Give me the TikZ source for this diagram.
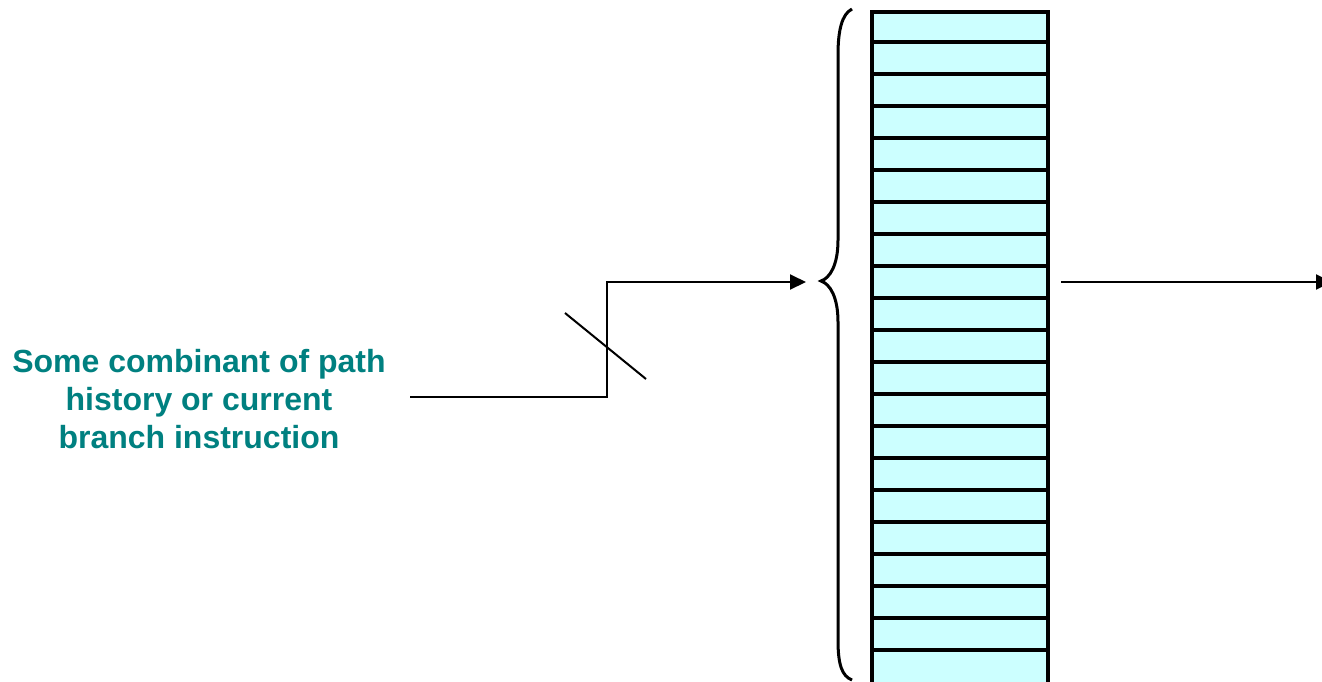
\documentclass[tikz,border=0pt]{standalone}
\usepackage{fontspec}
\newfontfamily\labelfont{Liberation Sans}
\usepackage{tikz}
\usetikzlibrary{arrows.meta}

\definecolor{labelteal}{RGB}{0,128,128}
\definecolor{entrycyan}{RGB}{204,255,255}

\begin{document}
\begin{tikzpicture}[x=1pt,y=-1pt,>={Triangle[length=16pt,width=15pt]},
  label text/.style={align=center, inner sep=0pt, text=labelteal,
    font=\labelfont\bfseries\fontsize{32}{38}\selectfont},
  table box/.style={draw, fill=entrycyan, line width=4pt, inner sep=0pt,
    minimum width=176pt, minimum height=674pt, anchor=north west},
  wire/.style={line width=2pt}]

  \useasboundingbox (0,0) rectangle (1322,681);

  \node[label text] (source) at (199,399) {Some combinant of path\\ history or current\\ branch instruction};
  \node[table box] (table) at (870,10) {};
  % entries of the table
  \foreach \i in {1,...,20}
    \draw[line width=4pt] ([yshift=-\i*32pt]table.north west) -- ([yshift=-\i*32pt]table.north east);

  \coordinate (in) at (410,397);
  \coordinate (tip) at (806,282);
  \coordinate (outstart) at (1061,282);
  \coordinate (outend) at (1332,282);

  \draw[wire,->] (in) -- (607,397) |- (tip);
  \draw[wire] (565,313) -- (646,379);
  \draw[wire,->] (outstart) -- (outend);

  % brace
  \draw[line width=3pt] (852,9) .. controls (842,14) and (838,30) .. (838,55) -- (838,240)
    .. controls (838,265) and (830,278) .. (821,281)
    .. controls (830,284) and (838,297) .. (838,322) -- (838,640)
    .. controls (838,665) and (842,676) .. (852,680);
\end{tikzpicture}
\end{document}
